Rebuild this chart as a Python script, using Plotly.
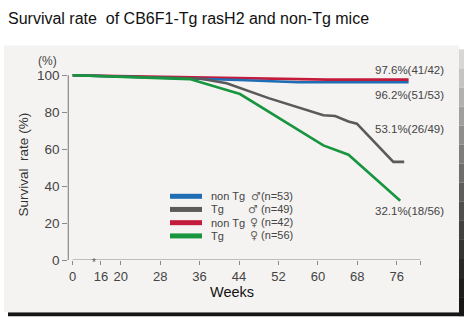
import plotly.graph_objects as go

W, H = 468, 328

# ---------------- data ----------------
series_names = ["non Tg ♂", "Tg ♂", "non Tg ♀", "Tg ♀"]
group_text = ["non Tg", "Tg", "non Tg", "Tg"]
sex_text = ["♂", "♂", "♀", "♀"]
n_animals = [53, 49, 42, 56]
n_alive = [51, 26, 41, 18]
colors = ["#1f6db5", "#5a5a5a", "#c41a3b", "#17963f"]

weeks_nontg_m = [0, 20, 36, 44, 56, 78.4]
pct_nontg_m = [100, 99.3, 98.2, 97.4, 96.2, 96.2]

weeks_tg_m = [0, 20, 36, 41.5, 50, 61.1, 63.5, 66.2, 67.9, 75.3, 77.5]
pct_tg_m = [100, 99.3, 98.2, 95.6, 87.6, 78.3, 77.9, 75.0, 73.8, 53.1, 53.1]

weeks_nontg_f = [0, 36, 52, 62, 78.4]
pct_nontg_f = [100, 99.0, 98.1, 97.6, 97.6]

weeks_tg_f = [0, 20, 34, 44.2, 61.1, 66.2, 76.7]
pct_tg_f = [100, 99.3, 97.9, 89.8, 62.0, 57.0, 32.1]

x_tick_weeks = [0, 16, 20, 28, 36, 44, 52, 60, 68, 76]
y_ticks = [0, 20, 40, 60, 80, 100]

all_weeks = [weeks_nontg_m, weeks_tg_m, weeks_nontg_f, weeks_tg_f]
all_pcts = [pct_nontg_m, pct_tg_m, pct_nontg_f, pct_tg_f]

# ---------------- broken axis scale (0..16 compressed) ----------------
D0 = 10.26
def axis_pos(w):
    return w if w >= 16 else D0 + w * (16 - D0) / 16.0

X_MIN, X_MAX = 9.37, 80.85
def px(x):
    return x / W
def py(y):
    return 1 - y / H

fig = go.Figure()

order = [2, 0, 1, 3]
for i in order:
    fig.add_trace(go.Scatter(
        x=[axis_pos(w) for w in all_weeks[i]], y=all_pcts[i],
        mode="lines", line=dict(color=colors[i], width=2.6),
        name=series_names[i], showlegend=False, hoverinfo="skip"))

shapes = []
shapes.append(dict(type="rect", xref="paper", yref="paper",
                   x0=px(8), x1=px(464), y0=py(324), y1=py(320),
                   fillcolor="#151515", line=dict(width=0), layer="below"))
n_seg = 14
top, bot = 48, 324
for k in range(n_seg):
    y0 = top + (bot - top) * k / n_seg
    y1 = top + (bot - top) * (k + 1) / n_seg
    t = (k + 0.5) / n_seg
    g = int(225 * (1 - t) ** 1.3 + 20 * t)
    shapes.append(dict(type="rect", xref="paper", yref="paper",
                       x0=px(459), x1=px(464), y0=py(y1), y1=py(y0),
                       fillcolor=f"rgb({g},{g},{g})", line=dict(width=0), layer="below"))
shapes.append(dict(type="rect", xref="paper", yref="paper",
                   x0=px(4), x1=px(459), y0=py(320), y1=py(44),
                   fillcolor="#f5f3f1", line=dict(width=0), layer="below"))
shapes.append(dict(type="line", xref="paper", yref="y",
                   x0=px(68.3), x1=px(68.3), y0=0, y1=100,
                   line=dict(color="#8a8a8a", width=1.2)))
shapes.append(dict(type="line", xref="x", yref="y",
                   x0=axis_pos(0), x1=X_MAX, y0=0, y1=0,
                   line=dict(color="#8a8a8a", width=1.2)))

leg_rows = [200, 213.6, 227.3, 241]
for i in range(4):
    shapes.append(dict(type="line", xref="paper", yref="paper",
                       x0=px(170), x1=px(202), y0=py(leg_rows[i]), y1=py(leg_rows[i]),
                       line=dict(color=colors[i], width=5)))
fig.update_layout(shapes=shapes)

font_fam = "Liberation Sans, Arial, DejaVu Sans, sans-serif"
ann = []
for i in range(4):
    ann.append(dict(xref="paper", yref="paper", x=px(209), y=py(leg_rows[i]),
                    text=group_text[i], showarrow=False, xanchor="left", yanchor="middle",
                    font=dict(size=11, color="#444", family=font_fam)))
    ann.append(dict(xref="paper", yref="paper", x=px(295), y=py(leg_rows[i]),
                    text=(f"<span style='font-family:DejaVu Sans;color:#666'>{sex_text[i]}</span>"
                          f"{'' if i == 0 else ' '}(n={n_animals[i]})"),
                    showarrow=False, xanchor="right", yanchor="middle",
                    font=dict(size=11, color="#444", family=font_fam)))

end_label_y = {2: 69.3, 0: 95, 1: 130, 3: 215.7}
for i, yy in end_label_y.items():
    pct = 100.0 * n_alive[i] / n_animals[i]
    ann.append(dict(xref="paper", yref="paper", x=px(373), y=py(yy),
                    text=f"{pct:.1f}%({n_alive[i]}/{n_animals[i]})", showarrow=False,
                    xanchor="left", yanchor="middle",
                    font=dict(size=11.5, color="#444", family=font_fam)))

ann.append(dict(xref="paper", yref="paper", x=px(6), y=py(16),
                text="Survival rate&nbsp;&nbsp;of CB6F1-Tg rasH2 and non-Tg mice", showarrow=False,
                xanchor="left", yanchor="middle",
                font=dict(size=16, color="#111", family=font_fam)))
ann.append(dict(xref="paper", yref="paper", x=px(47), y=py(59.5),
                text="(%)", showarrow=False, xanchor="center", yanchor="middle",
                font=dict(size=12, color="#444", family=font_fam)))
ann.append(dict(xref="paper", yref="paper", x=px(23), y=py(167),
                text="Survival&nbsp;&nbsp;rate (%)", showarrow=False, textangle=-90,
                xanchor="center", yanchor="middle",
                font=dict(size=13.5, color="#333", family=font_fam)))
ann.append(dict(xref="paper", yref="paper", x=px(232), y=py(299.5),
                text="Weeks", showarrow=False, xanchor="center", yanchor="middle",
                font=dict(size=14.5, color="#111", family=font_fam)))
ann.append(dict(xref="paper", yref="paper", x=px(93.7), y=py(268.5),
                text="*", showarrow=False, xanchor="center", yanchor="middle",
                font=dict(size=10, color="#555", family=font_fam)))
fig.update_layout(annotations=ann)

fig.update_layout(
    width=W, height=H,
    margin=dict(l=0, r=0, t=0, b=0),
    paper_bgcolor="white", plot_bgcolor="rgba(0,0,0,0)",
    xaxis=dict(domain=[px(68.3), px(420.7)], range=[X_MIN, X_MAX],
               tickvals=[axis_pos(w) for w in x_tick_weeks] + [X_MAX],
               ticktext=[str(w) for w in x_tick_weeks] + [""],
               ticks="outside", ticklen=4, tickcolor="#8a8a8a", tickwidth=1.2,
               showline=False, showgrid=False, zeroline=False,
               tickfont=dict(size=13, color="#444", family=font_fam)),
    yaxis=dict(domain=[py(266), py(266 - 102 * 1.913)], range=[0, 102],
               tickvals=y_ticks, ticks="outside", ticklen=5, tickcolor="#8a8a8a",
               tickwidth=1.2, showline=False, showgrid=False, zeroline=False,
               tickfont=dict(size=13.5, color="#444", family=font_fam)),
    showlegend=False,
)

fig.write_html("out.html")
